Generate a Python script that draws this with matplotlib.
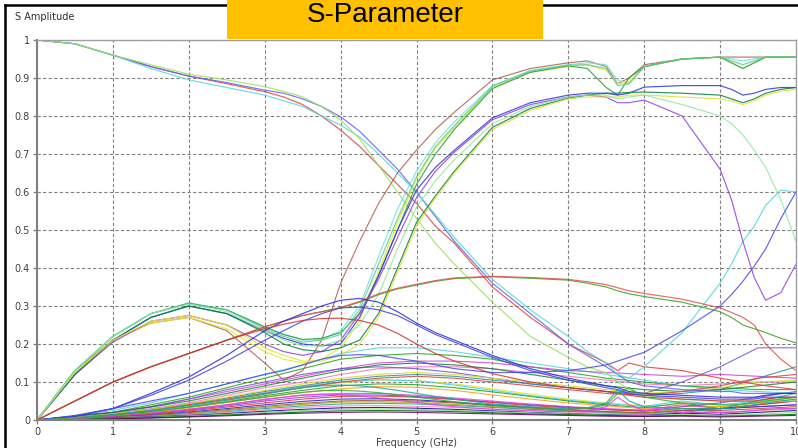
import matplotlib
matplotlib.use("Agg")
import matplotlib.pyplot as plt
from matplotlib.patches import Rectangle
from matplotlib.lines import Line2D

# frequency grids (GHz)
F_MAIN = [0, 0.5, 1, 1.5, 2, 2.5, 3, 3.25, 3.5, 3.75, 4, 4.25, 4.5, 4.75, 5, 5.25, 5.5,
          6, 6.5, 7, 7.25, 7.5, 7.65, 7.8, 8, 8.5, 9, 9.15, 9.3, 9.45, 9.6, 9.8, 10]
F_COARSE = [0, 0.5, 1, 1.5, 2, 2.5, 3, 3.5, 4, 4.5, 5, 5.5, 6, 6.5, 7, 7.5, 8, 8.5, 9, 9.5, 10]

# transmission curves starting at 1
il_red = [1.0, .99, .96, .93, .905, .885, .864, .85, .83, .80, .763, .72, .67, .62, .57, .51, .465,
          .35, .27, .20, .175, .15, .13, .15, .14, .13, .11, .105, .10, .095, .09, .085, .08]
il_blue = [1.0, .99, .96, .93, .905, .888, .868, .86, .845, .825, .798, .76, .71, .66, .60, .535, .47,
           .36, .28, .20, .17, .14, .12, .10, .09, .08, .075, .075, .07, .07, .07, .07, .07]
il_cyan = [1.0, .99, .96, .925, .895, .875, .855, .84, .825, .80, .776, .745, .70, .65, .60, .54, .48,
           .37, .29, .22, .18, .15, .12, .11, .14, .23, .36, .41, .47, .51, .565, .605, .60]
il_lgreen = [1.0, .99, .96, .935, .91, .895, .877, .865, .85, .825, .79, .74, .67, .60, .53, .465, .41,
             .31, .22, .165, .14, .124, .10, .08, .065, .055, .05, .05, .05, .05, .05, .05, .05]

# reflection curves climbing to ~0.95
ra_brown = [0, .13, .21, .255, .27, .235, .15, .105, .13, .21, .36, .47, .57, .65, .71, .765, .81,
            .895, .925, .94, .945, .93, .885, .90, .935, .95, .955, .955, .955, .955, .955, .955, .955]
ra_cyan = [0, .13, .22, .28, .305, .29, .245, .225, .21, .212, .235, .30, .43, .555, .655, .73, .785,
           .88, .92, .935, .94, .935, .895, .885, .93, .95, .955, .95, .945, .95, .955, .955, .955]
ra_yellow = [0, .125, .21, .255, .27, .24, .18, .16, .15, .16, .19, .26, .39, .52, .635, .715, .77,
             .875, .915, .93, .935, .92, .885, .89, .93, .95, .955, .94, .925, .94, .955, .955, .955]
ra_green = [0, .13, .22, .28, .308, .29, .245, .225, .212, .215, .23, .28, .38, .50, .62, .70, .765,
            .872, .915, .932, .925, .875, .855, .90, .93, .95, .955, .94, .925, .94, .955, .955, .955]
ra_teal = [0, .13, .22, .28, .306, .29, .24, .22, .205, .21, .225, .29, .41, .53, .64, .72, .775,
           .878, .918, .934, .935, .925, .88, .885, .93, .95, .955, .945, .935, .945, .955, .955, .955]

# reflection curves climbing to ~0.87
rb_blue = [0, .12, .21, .27, .30, .28, .235, .215, .20, .195, .20, .27, .38, .50, .605, .665, .71,
           .795, .835, .855, .86, .86, .855, .86, .876, .88, .88, .87, .855, .86, .87, .875, .875]
rb_purple = [0, .12, .205, .26, .275, .25, .20, .18, .17, .18, .21, .28, .37, .48, .585, .655, .705,
             .79, .83, .85, .855, .85, .835, .835, .842, .80, .66, .58, .47, .375, .315, .335, .41]
rb_green = [0, .12, .21, .27, .30, .28, .23, .20, .185, .18, .19, .21, .28, .40, .52, .59, .655,
            .77, .82, .847, .855, .86, .86, .862, .863, .86, .855, .845, .835, .845, .86, .87, .875]
rb_yellow = [0, .125, .21, .26, .275, .25, .19, .17, .155, .155, .17, .20, .27, .39, .51, .585, .65,
             .765, .815, .845, .85, .85, .85, .855, .855, .85, .845, .84, .83, .84, .855, .865, .87]
rb_lgreen = [0, .13, .22, .28, .305, .285, .235, .21, .195, .195, .21, .25, .33, .45, .56, .63, .685,
             .78, .825, .85, .855, .855, .845, .85, .855, .83, .80, .78, .75, .71, .665, .58, .47]

# coupling curves
ln_green = [0, .05, .10, .14, .175, .21, .245, .26, .275, .285, .295, .31, .33, .345, .355, .365, .372,
            .377, .373, .368, .36, .35, .34, .332, .325, .31, .285, .27, .25, .24, .23, .215, .203]
ln_red = [0, .05, .10, .14, .175, .21, .245, .26, .275, .285, .296, .312, .332, .347, .357, .367, .374,
          .378, .375, .37, .364, .356, .348, .34, .333, .318, .295, .283, .27, .25, .20, .16, .13]
pk_blue1 = [0, .01, .03, .07, .113, .17, .235, .26, .28, .30, .315, .32, .31, .285, .255, .23, .21,
            .17, .135, .11, .10, .09, .085, .075, .07, .065, .06, .06, .06, .06, .065, .07, .07]
pk_blue2 = [0, .01, .03, .065, .105, .155, .21, .235, .26, .28, .295, .297, .29, .275, .25, .225, .205,
            .165, .13, .105, .095, .085, .08, .07, .065, .06, .055, .055, .055, .055, .06, .06, .06]
pk_red = [0, .05, .10, .14, .175, .21, .24, .252, .262, .267, .268, .262, .25, .228, .20, .175, .155,
          .122, .10, .085, .08, .075, .07, .065, .06, .055, .05, .05, .05, .05, .055, .06, .06]
rise_blue = [0, .012, .03, .05, .07, .095, .12, .13, .145, .16, .17, .172, .17, .162, .155, .145, .135,
             .125, .125, .13, .137, .145, .155, .165, .178, .235, .30, .33, .365, .405, .45, .53, .60]
sp_teal = [0, .006, .014, .025, .038, .052, .068, .077, .085, .09, .092, .09, .085, .078, .07, .062, .055,
           .042, .035, .03, .032, .045, .08, .05, .035, .03, .03, .03, .035, .04, .045, .05, .055]
sp_magenta = [0, .004, .01, .018, .028, .04, .053, .06, .066, .068, .067, .063, .058, .052, .046, .04, .035,
              .028, .024, .022, .025, .035, .06, .04, .025, .02, .02, .02, .022, .025, .028, .03, .03]
sp_green = [0, .005, .012, .022, .034, .047, .06, .067, .073, .077, .078, .076, .072, .066, .06, .054, .048,
            .038, .032, .028, .03, .04, .07, .085, .06, .045, .04, .04, .042, .045, .05, .055, .06]

MAIN_CURVES = [
    (il_red, '#e04040'), (il_blue, '#6060f0'), (il_cyan, '#50d8d8'), (il_lgreen, '#98e060'),
    (ra_brown, '#b06050'), (ra_cyan, '#70e0e0'), (ra_yellow, '#e8e820'), (ra_green, '#20a040'),
    (ra_teal, '#60c890'),
    (rb_blue, '#3030e0'), (rb_purple, '#9040e0'), (rb_green, '#008040'), (rb_yellow, '#e0e030'),
    (rb_lgreen, '#90e8a0'),
    (ln_green, '#40a020'), (ln_red, '#e05050'),
    (pk_blue1, '#2828e0'), (pk_blue2, '#4040d8'), (pk_red, '#d03030'), (rise_blue, '#4848e8'),
    (sp_teal, '#20a0a0'), (sp_magenta, '#e040e0'), (sp_green, '#30b030'),
]

# mid-level coupling curves (coarse grid)
md_cyan = [0, .01, .025, .045, .07, .095, .12, .145, .175, .19, .19, .18, .165, .15, .135, .12, .105, .09, .08, .075, .07]
md_green = [0, .01, .02, .04, .06, .085, .11, .135, .16, .17, .175, .17, .16, .14, .125, .11, .10, .09, .085, .08, .08]
md_magenta = [0, .01, .02, .035, .055, .075, .095, .115, .135, .15, .155, .155, .15, .14, .13, .125, .12, .115, .12, .115, .11]
md_pink = [0, .008, .018, .03, .045, .065, .085, .10, .12, .135, .14, .14, .135, .125, .115, .105, .095, .09, .095, .10, .10]
md_purple = [0, .01, .02, .035, .055, .08, .10, .12, .135, .14, .135, .125, .11, .095, .085, .075, .07, .10, .14, .19, .19]
md_teal = [0, .008, .016, .028, .042, .058, .075, .09, .105, .115, .12, .115, .105, .095, .085, .075, .065, .07, .08, .11, .14]
md_dgreen = [0, .009, .02, .034, .05, .07, .09, .11, .13, .145, .15, .145, .135, .12, .105, .09, .08, .075, .08, .09, .10]
md_yellow = [0, .007, .016, .028, .042, .06, .078, .095, .11, .12, .125, .12, .11, .10, .09, .08, .07, .075, .085, .10, .105]
md_red = [0, .006, .014, .025, .04, .055, .07, .085, .10, .11, .115, .11, .10, .09, .08, .07, .065, .075, .09, .11, .12]

MID_CURVES = [
    (md_cyan, '#50d0e0'), (md_green, '#20a020'), (md_magenta, '#d040d0'), (md_pink, '#f070c0'),
    (md_purple, '#7050d0'), (md_teal, '#2090a0'), (md_dgreen, '#108030'), (md_yellow, '#d8d820'),
    (md_red, '#d04040'),
]

# low-level bundle (coarse grid)
LOW_VALUES = [
    [0, .005, .012, .022, .035, .05, .068, .085, .098, .105, .104, .095, .082, .068, .055, .045, .037, .04, .035, .045, .055],
    [0, .006, .014, .025, .038, .054, .072, .088, .10, .106, .103, .092, .078, .064, .052, .043, .036, .05, .04, .05, .06],
    [0, .005, .012, .022, .034, .048, .064, .078, .09, .095, .093, .085, .074, .062, .05, .04, .032, .045, .03, .04, .05],
    [0, .004, .01, .02, .032, .046, .06, .072, .082, .088, .086, .078, .066, .055, .045, .037, .03, .035, .035, .045, .06],
    [0, .004, .01, .018, .028, .04, .055, .065, .07, .07, .065, .058, .05, .042, .035, .03, .026, .04, .03, .035, .04],
    [0, .004, .009, .017, .026, .037, .05, .06, .066, .066, .062, .055, .047, .04, .034, .028, .024, .035, .045, .06, .075],
    [0, .003, .008, .015, .024, .034, .045, .055, .062, .063, .06, .054, .046, .038, .032, .027, .023, .03, .03, .04, .05],
    [0, .003, .007, .013, .021, .03, .04, .049, .055, .056, .053, .047, .04, .033, .027, .022, .018, .025, .03, .035, .04],
    [0, .003, .007, .012, .019, .027, .036, .044, .05, .052, .05, .045, .038, .032, .026, .022, .019, .025, .025, .03, .035],
    [0, .002, .006, .011, .017, .025, .033, .041, .047, .048, .046, .041, .035, .029, .024, .02, .017, .03, .02, .025, .03],
    [0, .003, .006, .01, .015, .022, .03, .037, .042, .044, .042, .038, .033, .028, .023, .019, .016, .02, .03, .05, .07],
    [0, .002, .005, .009, .014, .02, .027, .033, .037, .038, .036, .033, .029, .025, .021, .018, .015, .02, .02, .025, .03],
    [0, .002, .005, .008, .012, .017, .023, .028, .032, .033, .031, .028, .024, .02, .017, .014, .012, .018, .015, .02, .025],
    [0, .002, .004, .007, .011, .015, .02, .025, .028, .029, .028, .025, .022, .019, .016, .013, .011, .015, .012, .015, .02],
    [0, .001, .003, .006, .009, .013, .017, .021, .024, .025, .024, .022, .019, .016, .014, .012, .01, .012, .01, .012, .015],
    [0, .001, .003, .005, .008, .011, .015, .018, .02, .021, .02, .018, .016, .014, .012, .01, .009, .01, .008, .01, .012],
]
LOW_COLORS = ['#e0e020', '#40d0e0', '#20a020', '#f0a020', '#e040e0', '#8040e0', '#e03030', '#2020d0',
              '#a05030', '#a0a000', '#20a0a0', '#ff80c0', '#000090', '#80e080', '#006000', '#600060']

Y_TICKS = [0, 0.1, 0.2, 0.3, 0.4, 0.5, 0.6, 0.7, 0.8, 0.9, 1]
Y_LABELS = ['0', '0.1', '0.2', '0.3', '0.4', '0.5', '0.6', '0.7', '0.8', '0.9', '1']
X_TICKS = list(range(0, 11))

fig = plt.figure(figsize=(7.98, 4.48), dpi=100)
fig.patch.set_facecolor('white')
ax = fig.add_axes([37 / 798, 28 / 448, 759 / 798, 380 / 448])

for vals, col in zip(LOW_VALUES, LOW_COLORS):
    ax.plot(F_COARSE, vals, color=col, lw=0.8, alpha=0.85)
for vals, col in MID_CURVES:
    ax.plot(F_COARSE, vals, color=col, lw=0.8, alpha=0.85)
for vals, col in MAIN_CURVES:
    ax.plot(F_MAIN, vals, color=col, lw=0.85, alpha=0.85)

ax.set_xlim(0, 10)
ax.set_ylim(0, 1)
ax.set_xticks(X_TICKS)
ax.set_yticks(Y_TICKS)
ax.set_yticklabels(Y_LABELS)
ax.tick_params(labelsize=7, colors='#404040', length=3, width=1, pad=2)
ax.tick_params(axis='both', color='#808080')
ax.grid(True, color='#808080', linestyle=(0, (3, 2)), lw=0.8)
ax.set_axisbelow(True)
for side in ['left', 'bottom']:
    ax.spines[side].set_color('#808080')
    ax.spines[side].set_linewidth(1.5)
for side in ['top', 'right']:
    ax.spines[side].set_color('#a0a0a0')
    ax.spines[side].set_linewidth(1.0)

ax.set_xlabel('Frequency (GHz)', fontsize=7, color='#404040', labelpad=1)
fig.text(15 / 798, 1 - 17 / 448, 'S Amplitude', fontsize=7, color='#303030', va='center', ha='left')

# outer frame
fig.add_artist(Line2D([5 / 798, 5 / 798], [0, 1 - 5 / 448], color='black', lw=1.8))
fig.add_artist(Line2D([5 / 798, 1], [1 - 5 / 448, 1 - 5 / 448], color='black', lw=1.8))

# title box
fig.add_artist(Rectangle((227 / 798, 1 - 39 / 448), 316 / 798, 39 / 448,
                         transform=fig.transFigure, facecolor='#ffc000', edgecolor='none', zorder=5))
fig.text(385 / 798, 1 - 15 / 448, 'S-Parameter', fontsize=20, family='Liberation Sans',
         ha='center', va='center', color='black', zorder=6)

fig.savefig('out.png', dpi=100)
